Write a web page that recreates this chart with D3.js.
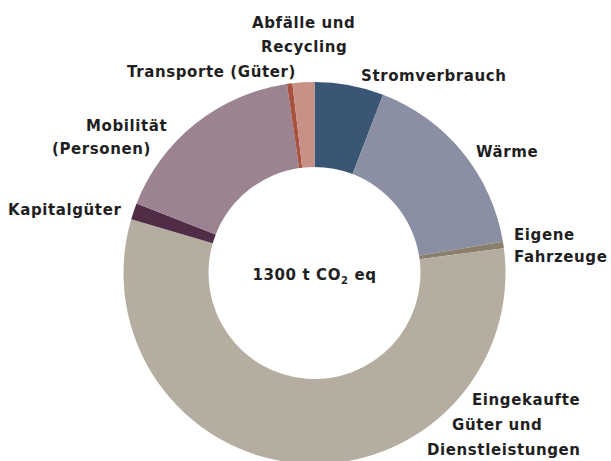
<!DOCTYPE html>
<html>
<head>
<meta charset="utf-8">
<script src="https://cdn.jsdelivr.net/npm/d3@7"></script>
<style>
  body { margin: 0; background: #fff; }
  text { font-family: "DejaVu Sans", sans-serif; font-weight: 600; fill: #1f1f1f; letter-spacing: 0.6px; }
</style>
</head>
<body>
<div id="chart"></div>
<script>
// emissions by category, t CO2 eq (clockwise from top)
const categories = ["Stromverbrauch", "Wärme", "Eigene Fahrzeuge", "Eingekaufte Güter und Dienstleistungen",
  "Kapitalgüter", "Mobilität (Personen)", "Transporte (Güter)", "Abfälle und Recycling"];
const values = [76, 215, 7, 736, 18, 218, 6, 24];
const totalLabel = "1300";
const colors = ["#3a5674", "#8a8fa3", "#8b7f6b", "#b5ad9f", "#512c46", "#9b8392", "#a8513f", "#c79285"];

// label lines + anchor per category (layout only)
const labelLines = [
  ["Stromverbrauch"], ["Wärme"], ["Eigene", "Fahrzeuge"], ["Eingekaufte", "Güter und", "Dienstleistungen"],
  ["Kapitalgüter"], ["Mobilität", "(Personen)"], ["Transporte (Güter)"], ["Abfälle und", "Recycling"]
];
const labelPos = [
  [[361, 81]], [[476, 157]], [[514, 240], [514, 262]], [[472, 405], [452, 430], [427, 455]],
  [[8, 215]], [[86, 131], [52, 154]], [[127, 77]], [[252, 28], [261, 52]]
];

const width = 611, height = 461;
const cx = 314.5, cy = 273, outerR = 191, innerR = 106;

const svg = d3.select("#chart").append("svg")
  .attr("width", width)
  .attr("height", height);

const g = svg.append("g").attr("transform", `translate(${cx},${cy})`);

const pie = d3.pie().sort(null).value(d => d);
const arc = d3.arc().innerRadius(innerR).outerRadius(outerR);

g.selectAll("path")
  .data(pie(values))
  .join("path")
  .attr("d", arc)
  .attr("fill", (d, i) => colors[i]);

// category labels
labelLines.forEach((lines, i) => {
  lines.forEach((line, j) => {
    svg.append("text")
      .attr("x", labelPos[i][j][0])
      .attr("y", labelPos[i][j][1])
      .attr("font-size", 15)
      .text(line);
  });
});

// centre label
const center = svg.append("text")
  .attr("x", cx)
  .attr("y", 280)
  .attr("text-anchor", "middle")
  .attr("font-size", 15);
center.append("tspan").text(totalLabel + " t CO");
center.append("tspan").attr("font-size", 10).attr("dy", 4).text("2");
center.append("tspan").attr("dy", -4).text(" eq");
</script>
</body>
</html>
